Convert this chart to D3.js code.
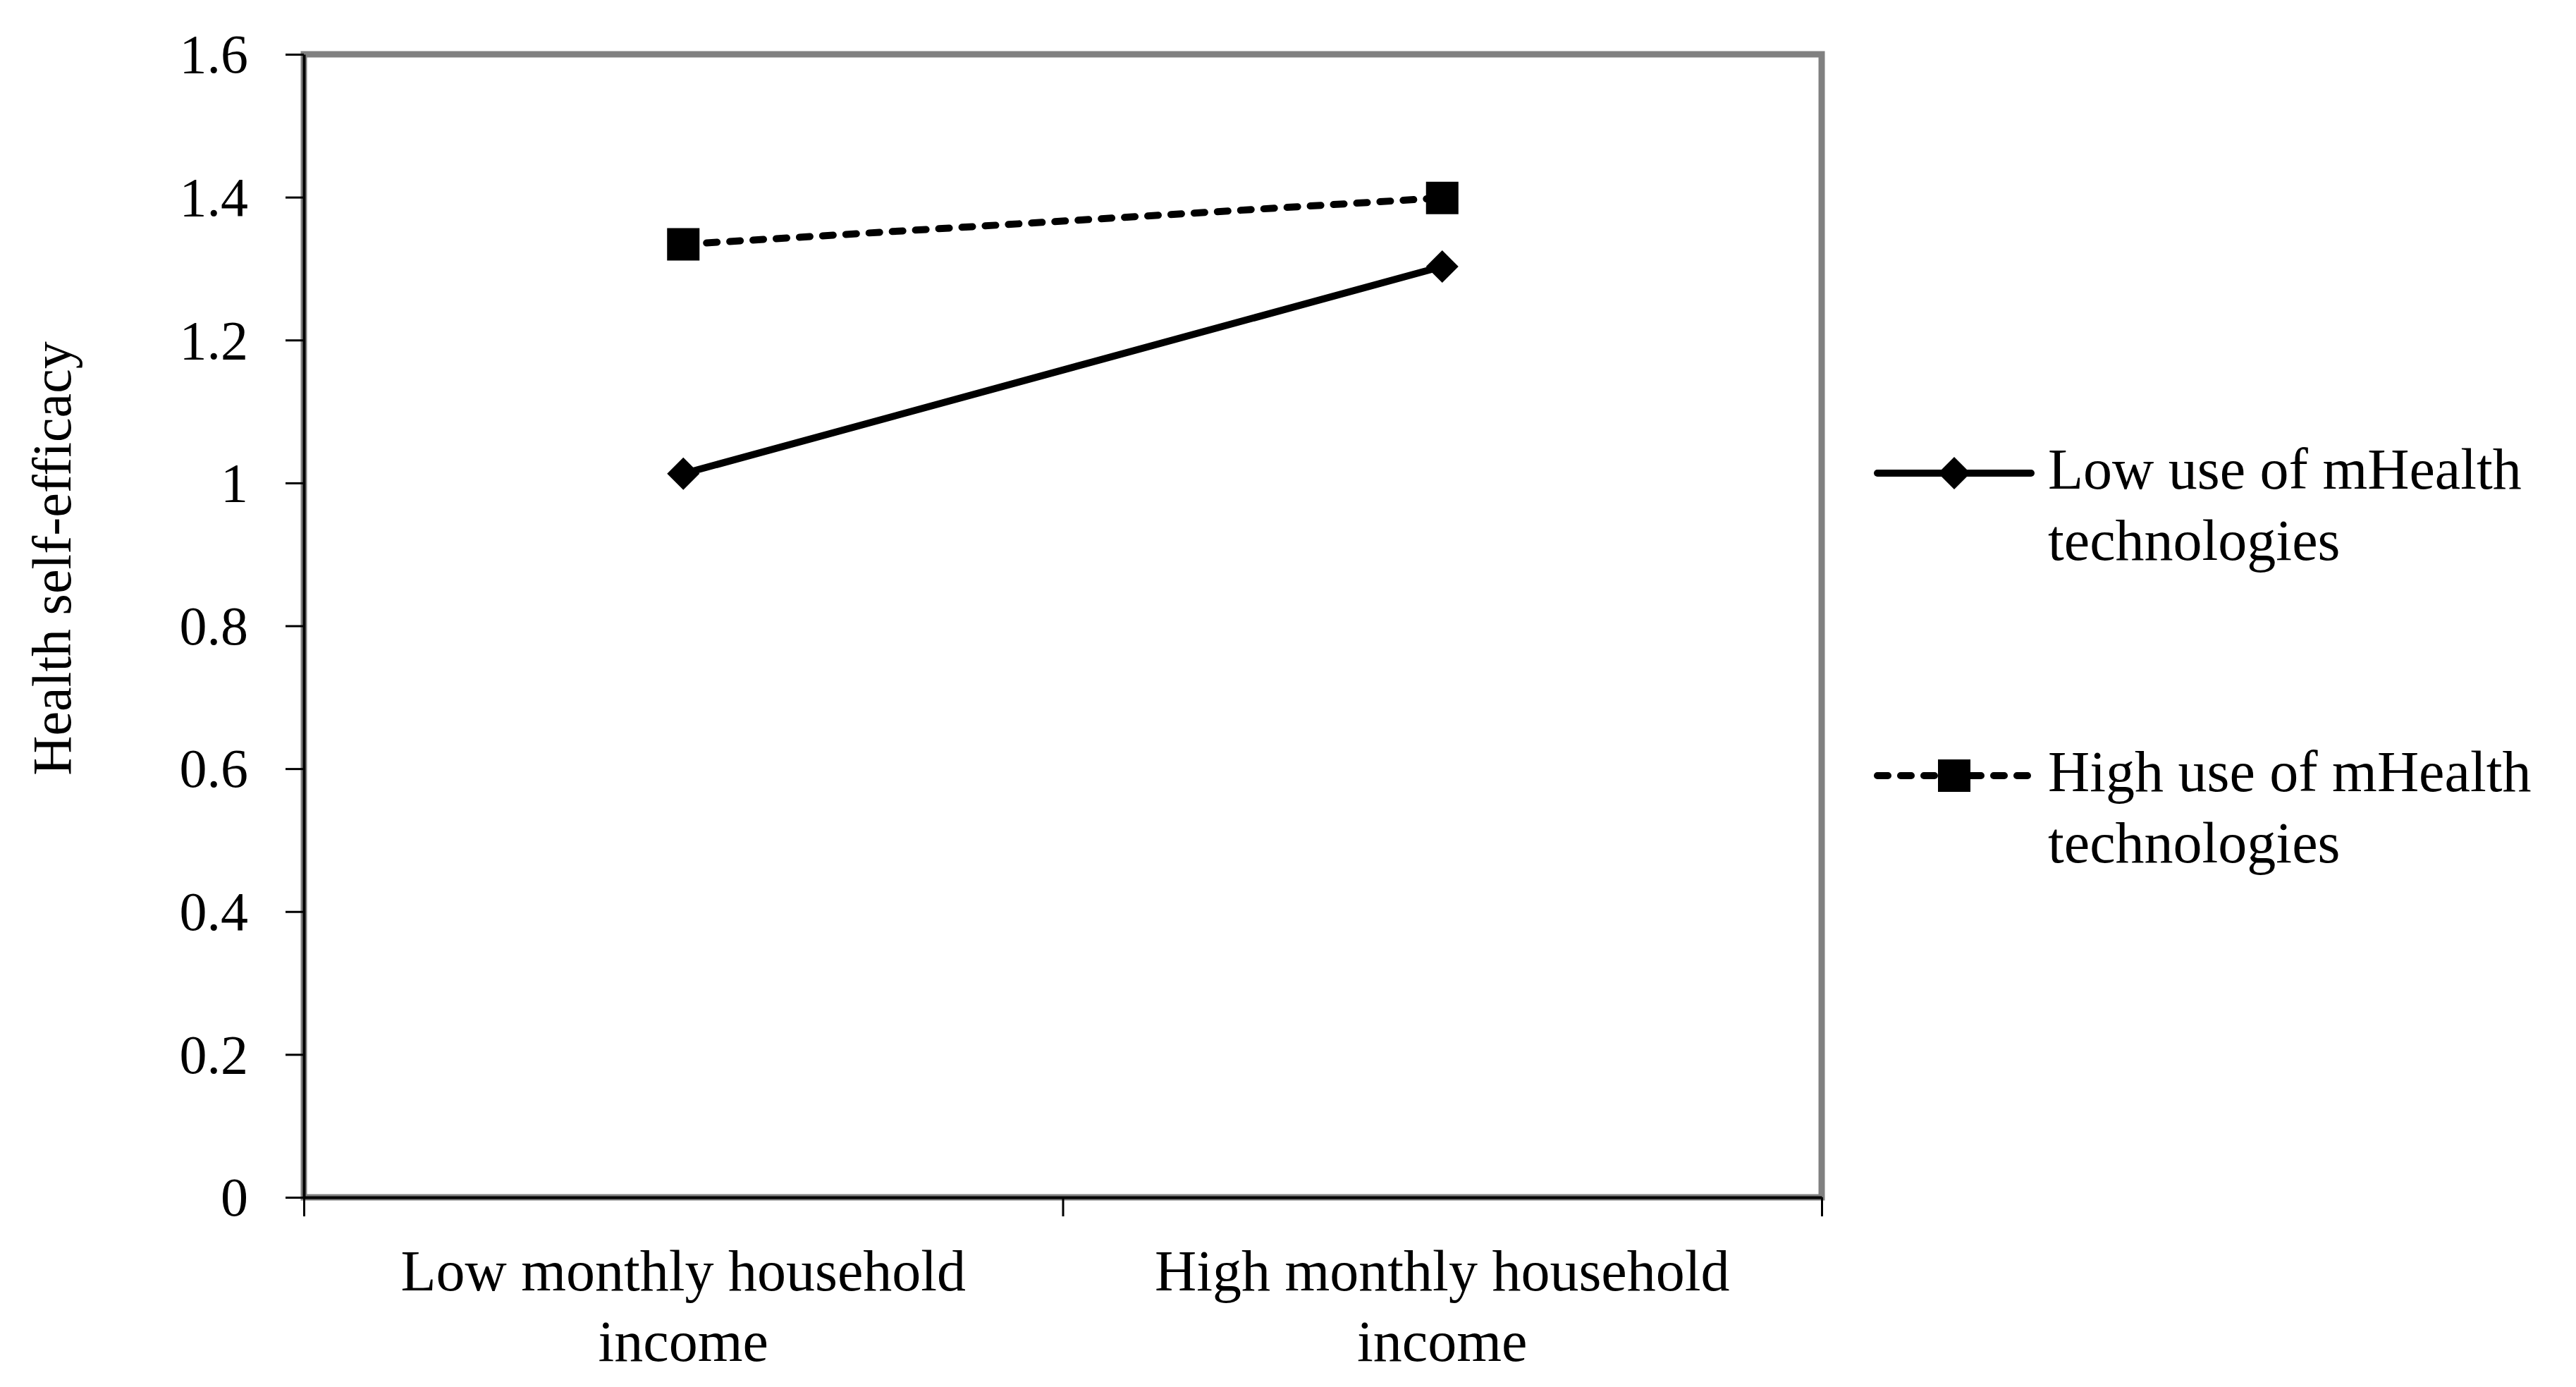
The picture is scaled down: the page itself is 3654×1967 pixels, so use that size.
<!DOCTYPE html>
<html>
<head>
<meta charset="utf-8">
<script src="https://cdn.jsdelivr.net/npm/d3@7"></script>
<style>
  body { margin: 0; background: #fff; }
  text { fill: #000; }
</style>
</head>
<body>
<div id="chart"></div>
<script>
// values
const categories = ["Low monthly household income", "High monthly household income"];
const categoryLines = [["Low monthly household", "income"], ["High monthly household", "income"]];
const lowUseValues = [1.013, 1.303];
const highUseValues = [1.334, 1.399];
const yTicks = [0, 0.2, 0.4, 0.6, 0.8, 1, 1.2, 1.4, 1.6];
const seriesNames = [["Low use of mHealth", "technologies"], ["High use of mHealth", "technologies"]];

const width = 3654, height = 1967;
const margin = {top: 77, right: 1070, bottom: 269, left: 431};
const innerW = width - margin.left - margin.right;
const innerH = height - margin.top - margin.bottom;

const svg = d3.select("#chart")
    .append("svg")
    .attr("width", width)
    .attr("height", height);

const g = svg.append("g")
    .attr("transform", "translate(" + margin.left + "," + margin.top + ")");

const x = d3.scaleBand()
    .domain(categories)
    .range([0, innerW])
    .padding(0);

const xEdge = d3.scaleLinear()
    .domain([0, categories.length])
    .range([0, innerW]);

const y = d3.scaleLinear()
    .domain([0, 1.6])
    .range([innerH, 0]);

// grey plot frame
g.append("rect")
    .attr("x", 0)
    .attr("y", 0)
    .attr("width", innerW)
    .attr("height", innerH)
    .attr("fill", "none")
    .attr("stroke", "#808080")
    .attr("stroke-width", 9);

// y axis
const yAxis = g.append("g")
    .call(d3.axisLeft(y)
        .tickValues(yTicks)
        .tickSize(26)
        .tickSizeOuter(0)
        .tickPadding(53)
        .tickFormat(d => String(+d.toFixed(1))));
yAxis.select(".domain").attr("stroke", "#000").attr("stroke-width", 4);
yAxis.selectAll(".tick line").attr("stroke", "#000").attr("stroke-width", 3);
yAxis.selectAll(".tick text")
    .attr("font-family", "'Liberation Serif', 'Times New Roman', serif")
    .attr("font-size", 78)
    .attr("dy", "0.33em");

// x axis, ticks on the category edges
const xAxis = g.append("g")
    .attr("transform", "translate(0," + innerH + ")")
    .call(d3.axisBottom(xEdge)
        .tickValues(d3.range(categories.length + 1))
        .tickSize(27)
        .tickSizeOuter(0)
        .tickFormat(""));
xAxis.select(".domain").attr("stroke", "#000").attr("stroke-width", 4);
xAxis.selectAll(".tick line").attr("stroke", "#000").attr("stroke-width", 3);

// category labels
const catLabels = g.append("g")
    .selectAll("text")
    .data(categories)
    .enter()
    .append("text")
    .attr("x", d => x(d) + x.bandwidth() / 2)
    .attr("y", innerH + 132)
    .attr("text-anchor", "middle")
    .attr("font-family", "'Liberation Serif', 'Times New Roman', serif")
    .attr("font-size", 82);
catLabels.selectAll("tspan")
    .data((d, i) => categoryLines[i])
    .enter()
    .append("tspan")
    .attr("x", function() { return this.parentNode.getAttribute("x"); })
    .attr("dy", (d, i) => i === 0 ? 0 : 100)
    .text(d => d);

// y axis title
svg.append("text")
    .attr("transform", "translate(100,792) rotate(-90)")
    .attr("text-anchor", "middle")
    .attr("font-family", "'Liberation Serif', 'Times New Roman', serif")
    .attr("font-size", 78)
    .text("Health self-efficacy");

const series = [
    {name: seriesNames[0], values: lowUseValues, dash: null, symbol: "diamond"},
    {name: seriesNames[1], values: highUseValues, dash: "15,18", symbol: "square"}
];

const line = d3.line()
    .x((d, i) => x(categories[i]) + x.bandwidth() / 2)
    .y(d => y(d));

const diamond = d3.symbol().type(d3.symbolSquare).size(1058);
const square = d3.symbol().type(d3.symbolSquare).size(2116);

series.forEach(function(s) {
    g.append("path")
        .datum(s.values)
        .attr("d", line)
        .attr("fill", "none")
        .attr("stroke", "#000")
        .attr("stroke-width", 10)
        .attr("stroke-linecap", "round")
        .attr("stroke-dasharray", s.dash);

    g.selectAll(".pt-" + s.symbol)
        .data(s.values)
        .enter()
        .append("path")
        .attr("class", "pt-" + s.symbol)
        .attr("d", s.symbol === "diamond" ? diamond : square)
        .attr("transform", (d, i) => "translate(" + (x(categories[i]) + x.bandwidth() / 2) + "," + y(d) + ")" + (s.symbol === "diamond" ? " rotate(45)" : ""))
        .attr("fill", "#000");
});

// legend
const legendY = [671, 1100];
const legend = svg.append("g")
    .selectAll("g")
    .data(series)
    .enter()
    .append("g")
    .attr("transform", (d, i) => "translate(2663," + legendY[i] + ")");

legend.append("line")
    .attr("x1", 0)
    .attr("x2", 218)
    .attr("stroke", "#000")
    .attr("stroke-width", 10)
    .attr("stroke-linecap", "round")
    .attr("stroke-dasharray", d => d.dash);

legend.append("path")
    .attr("d", d => d.symbol === "diamond" ? diamond() : square())
    .attr("transform", d => "translate(109,0)" + (d.symbol === "diamond" ? " rotate(45)" : ""))
    .attr("fill", "#000");

const legendText = legend.append("text")
    .attr("x", 242)
    .attr("y", 22)
    .attr("font-family", "'Liberation Serif', 'Times New Roman', serif")
    .attr("font-size", 82);
legendText.selectAll("tspan")
    .data(d => d.name)
    .enter()
    .append("tspan")
    .attr("x", 242)
    .attr("dy", (d, i) => i === 0 ? 0 : 101)
    .text(d => d);
</script>
</body>
</html>
